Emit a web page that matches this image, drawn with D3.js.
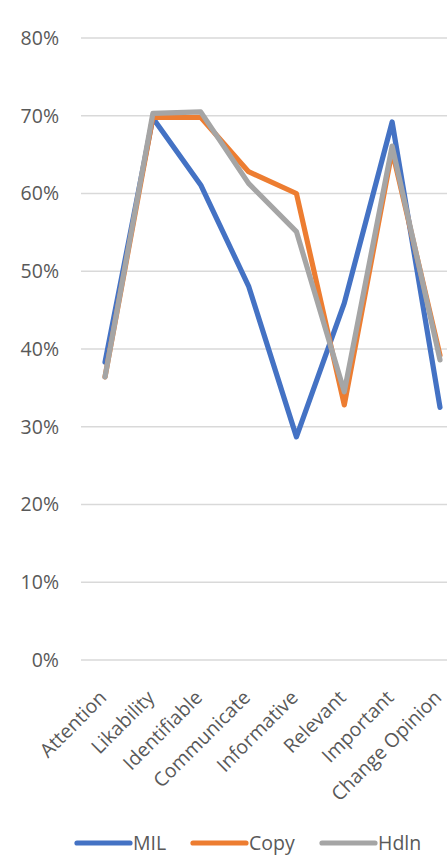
<!DOCTYPE html>
<html><head><meta charset="utf-8">
<script src="https://cdn.jsdelivr.net/npm/d3@7"></script>
<style>html,body{margin:0;padding:0;background:#fff;overflow:hidden}</style>
</head><body>
<svg id="c" width="447" height="859"></svg>
<script>
const categories = ["Attention","Likability","Identifiable","Communicate","Informative","Relevant","Important","Change Opinion"];
const milValues  = [0.383,0.697,0.611,0.481,0.287,0.459,0.692,0.325];
const copyValues = [0.364,0.698,0.698,0.628,0.600,0.328,0.655,0.392];
const hdlnValues = [0.364,0.703,0.705,0.613,0.551,0.345,0.661,0.386];
const seriesNames = ["MIL","Copy","Hdln"];
const yTicks = [0,0.1,0.2,0.3,0.4,0.5,0.6,0.7,0.8];

const series = [
  {name: seriesNames[0], values: milValues,  color: "#4472C4"},
  {name: seriesNames[1], values: copyValues, color: "#ED7D31"},
  {name: seriesNames[2], values: hdlnValues, color: "#A5A5A5"}
];

const svg = d3.select("#c");
const font = "'Open Sans', 'Noto Sans', sans-serif";
const x = d3.scalePoint().domain(categories).range([105, 440]);
const y = d3.scaleLinear().domain([0,0.8]).range([660, 38]);

// gridlines
svg.append("g").selectAll("line").data(yTicks).join("line")
  .attr("x1", 81).attr("x2", 447)
  .attr("y1", d => y(d)).attr("y2", d => y(d))
  .attr("stroke", "#d9d9d9").attr("stroke-width", 1.3);

// y axis labels
const yAxis = d3.axisLeft(y).tickValues(yTicks).tickFormat(d3.format(".0%")).tickSize(0).tickPadding(0);
const yg = svg.append("g").attr("transform","translate(59,0)").call(yAxis);
yg.select(".domain").remove();
yg.selectAll("text").attr("fill","#595959").style("font-family",font).style("font-size","19.5px");

// lines
const line = d3.line().x((d,i) => x(categories[i])).y(d => y(d));
svg.append("g").selectAll("path").data(series).join("path")
  .attr("d", d => line(d.values))
  .attr("fill","none").attr("stroke", d => d.color)
  .attr("stroke-width", 5.2).attr("stroke-linejoin","round").attr("stroke-linecap","round");

// x labels
svg.append("g").selectAll("text").data(categories).join("text")
  .attr("transform", d => `translate(${x(d)-2},694) rotate(-45)`)
  .attr("text-anchor","end").attr("dy","0.35em")
  .attr("fill","#595959").style("font-family",font).style("font-size","19.5px")
  .text(d => d);

// legend
const legX = [77, 193, 322];
const lg = svg.append("g").selectAll("g").data(series).join("g")
  .attr("transform",(d,i) => `translate(${legX[i]},843)`);
lg.append("line").attr("x1",0).attr("x2",53).attr("y1",0).attr("y2",0)
  .attr("stroke", d => d.color).attr("stroke-width",5.2).attr("stroke-linecap","round");
lg.append("text").attr("x",56).attr("y",0).attr("dy","0.35em")
  .text(d => d.name).attr("fill","#595959").style("font-family",font).style("font-size","19.5px");
</script>
</body></html>
